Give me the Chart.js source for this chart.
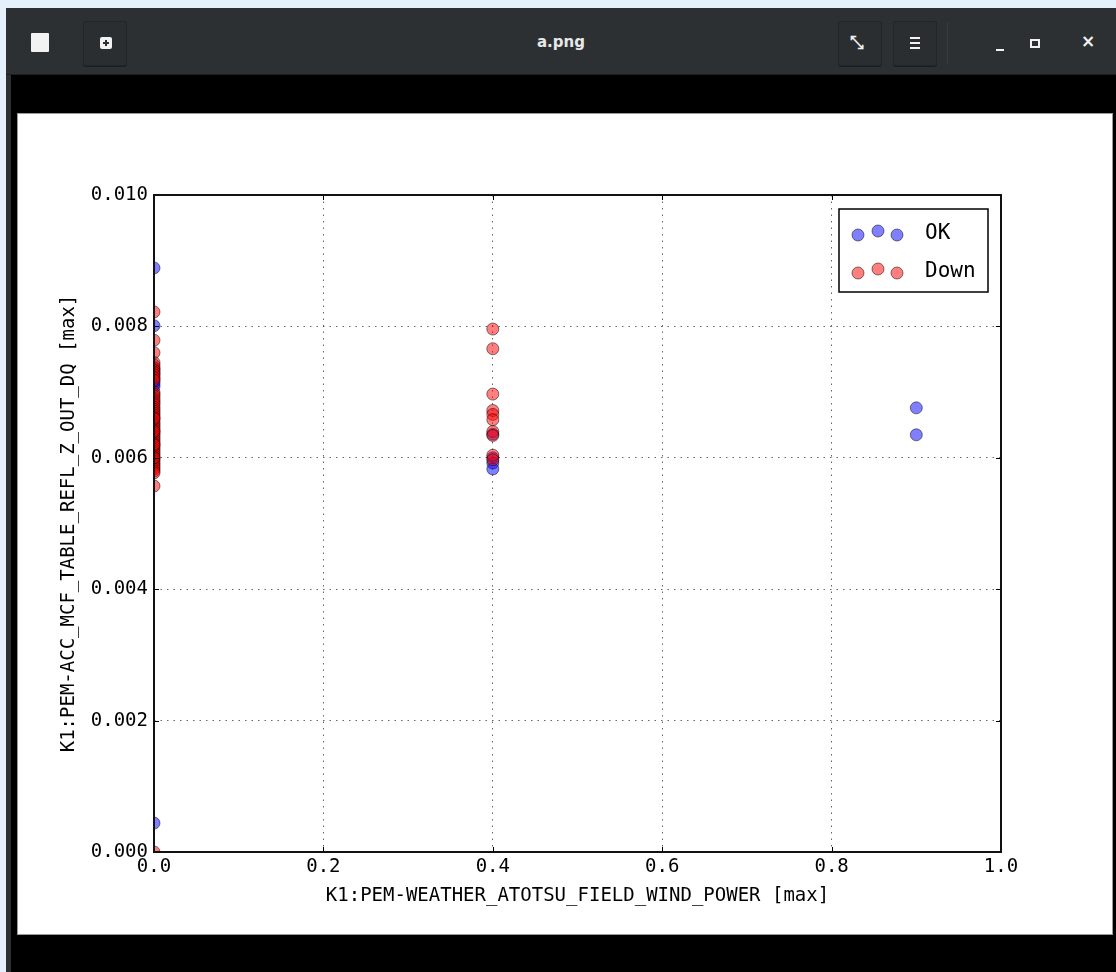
<!DOCTYPE html>
<html>
<head>
<meta charset="utf-8">
<script src="https://cdn.jsdelivr.net/npm/chart.js@4/dist/chart.umd.min.js"></script>
<style>
  html, body { margin: 0; padding: 0; }
  body { width: 1116px; height: 972px; background: #e4f0fb; position: relative; overflow: hidden; font-family: "DejaVu Sans", sans-serif; }
  #win { position: absolute; left: 6px; top: 8px; width: 1110px; height: 964px; background: #2d3134; }
  #titlebar { position: absolute; left: 0; top: 0; width: 1110px; height: 66px; background: #2c3033; border-bottom: 1px solid #1c1e20; }
  #content { position: absolute; left: 5px; top: 67px; width: 1105px; height: 897px; background: #000; }
  #img { position: absolute; left: 18px; top: 114px; width: 1094px; height: 820px; background: #fff; box-shadow: 0 0 0 1px #9a9a9a; }
  .btn { position: absolute; top: 13px; width: 44px; height: 45px; border-radius: 3px; background: #2a2e31; box-shadow: inset 0 0 0 1px #22262a, 0 1px 0 #1b1d1f; }
  #title { position: absolute; left: 0; width: 1110px; top: 25px; text-align: center; color: #e8e8e8; font-size: 15px; font-weight: bold; font-family: "DejaVu Sans", sans-serif; }
  .ic { position: absolute; background: #f2f2f2; }
</style>
</head>
<body>
<div id="win">
  <div id="titlebar">
    <div class="ic" style="left:25px;top:25px;width:18px;height:19px;border-radius:1px;"></div>
    <div class="btn" style="left:77px;"></div>
    <div class="ic" style="left:94px;top:29px;width:12px;height:12px;border-radius:2px;"></div>
    <div style="position:absolute;left:97px;top:34px;width:6px;height:2px;background:#2c3033;"></div>
    <div style="position:absolute;left:99px;top:32px;width:2px;height:6px;background:#2c3033;"></div>
    <div id="title">a.png</div>
    <div class="btn" style="left:832px;"></div>
    <div style="position:absolute;left:844px;top:24px;color:#f0f0f0;font-size:17px;font-weight:bold;line-height:20px;">&#x2921;</div>
    <div class="btn" style="left:887px;"></div>
    <div class="ic" style="left:904px;top:29px;width:10px;height:2px;"></div>
    <div class="ic" style="left:904px;top:34px;width:10px;height:2px;"></div>
    <div class="ic" style="left:904px;top:39px;width:10px;height:2px;"></div>
    <div style="position:absolute;left:941px;top:14px;width:1px;height:42px;background:#383c40;"></div>
    <div class="ic" style="left:990px;top:41px;width:8px;height:2px;"></div>
    <div style="position:absolute;left:1024px;top:31px;width:6px;height:5px;border:2px solid #f2f2f2;"></div>
    <div style="position:absolute;left:1075px;top:23px;color:#f2f2f2;font-size:17px;font-weight:bold;">&#x00D7;</div>
  </div>
  <div id="content"></div>
</div>
<div id="img"><canvas id="c" width="1094" height="820"></canvas></div>
<script>
// ---- data ----
const seriesNames = ['OK', 'Down'];
const okX = [0, 0, 0, 0, 0, 0, 0, 0, 0, 0.4, 0.4, 0.4, 0.4, 0.9, 0.9];
const okY = [0.00889, 0.00801, 0.00735, 0.00728, 0.00721, 0.00716, 0.00712, 0.00708, 0.00044,
             0.00636, 0.00600, 0.00592, 0.00583, 0.00676, 0.00635];
const downX = [0, 0, 0, 0, 0, 0, 0, 0, 0, 0,
               0, 0, 0, 0, 0, 0, 0, 0, 0, 0,
               0, 0, 0, 0, 0, 0, 0, 0, 0, 0,
               0, 0, 0, 0, 0, 0, 0, 0, 0, 0,
               0, 0, 0, 0, 0, 0, 0, 0, 0, 0,
               0, 0, 0, 0, 0, 0, 0, 0,
               0.4, 0.4, 0.4, 0.4, 0.4, 0.4, 0.4, 0.4, 0.4, 0.4];
const downY = [0.00822, 0.00779, 0.00760, 0.00745, 0.00741, 0.00737, 0.00733, 0.00730, 0.00726, 0.00722,
               0.00718, 0.00700, 0.00697, 0.00694, 0.00690, 0.00687, 0.00684, 0.00681, 0.00677, 0.00674,
               0.00671, 0.00668, 0.00665, 0.00662, 0.00659, 0.00655, 0.00652, 0.00649, 0.00646, 0.00643,
               0.00640, 0.00637, 0.00634, 0.00631, 0.00628, 0.00625, 0.00622, 0.00619, 0.00616, 0.00613,
               0.00610, 0.00607, 0.00604, 0.00601, 0.00598, 0.00595, 0.00592, 0.00589, 0.00586, 0.00583,
               0.00580, 0.00577, 0.00660, 0.00640, 0.00620, 0.00600, 0.00557, 0.0,
               0.00796, 0.00766, 0.00697, 0.00672, 0.00666, 0.00658, 0.00640, 0.00634, 0.00604, 0.00597];
const xTickLabels = ['0.0', '0.2', '0.4', '0.6', '0.8', '1.0'];
const yTickLabels = ['0.000', '0.002', '0.004', '0.006', '0.008', '0.010'];
const xTitle = 'K1:PEM-WEATHER_ATOTSU_FIELD_WIND_POWER [max]';
const yTitle = 'K1:PEM-ACC_MCF_TABLE_REFL_Z_OUT_DQ [max]';

const FONT = '"DejaVu Sans Mono", monospace';
const okFill = 'rgba(0,0,255,0.5)';
const downFill = 'rgba(255,0,0,0.5)';
const edge = 'rgba(0,0,0,0.5)';

const toPts = (xs, ys) => xs.map((x, i) => ({ x: x, y: ys[i] }));

const framePlugin = {
  id: 'frame',
  afterDraw(chart) {
    const ctx = chart.ctx;
    const a = chart.chartArea;
    const xs = chart.scales.x, ys = chart.scales.y;
    ctx.save();
    ctx.strokeStyle = '#000';
    ctx.lineWidth = 1;
    const L = 5;
    xs.ticks.forEach(t => {
      const px = Math.round(xs.getPixelForValue(t.value)) + 0.5;
      ctx.beginPath();
      ctx.moveTo(px, a.bottom); ctx.lineTo(px, a.bottom - L);
      ctx.moveTo(px, a.top); ctx.lineTo(px, a.top + L);
      ctx.stroke();
    });
    ys.ticks.forEach(t => {
      const py = Math.round(ys.getPixelForValue(t.value)) + 0.5;
      ctx.beginPath();
      ctx.moveTo(a.left, py); ctx.lineTo(a.left + L, py);
      ctx.moveTo(a.right, py); ctx.lineTo(a.right - L, py);
      ctx.stroke();
    });
    ctx.lineWidth = 2;
    ctx.strokeStyle = '#111';
    ctx.strokeRect(a.left, a.top, a.right - a.left, a.bottom - a.top);

    // legend box (matplotlib style with three markers)
    const bx = 821, by = 95, bw = 149, bh = 83;
    ctx.fillStyle = '#fff';
    ctx.fillRect(bx, by, bw, bh);
    ctx.lineWidth = 1.5;
    ctx.strokeStyle = '#000';
    ctx.strokeRect(bx, by, bw, bh);
    const rows = [
      { name: seriesNames[0], fill: okFill, y: 24 },
      { name: seriesNames[1], fill: downFill, y: 62 }
    ];
    const offs = [[19, 2], [39, -2], [58, 2]];
    rows.forEach(r => {
      offs.forEach(o => {
        ctx.beginPath();
        ctx.arc(bx + o[0], by + r.y + o[1], 6, 0, Math.PI * 2);
        ctx.fillStyle = r.fill;
        ctx.fill();
        ctx.lineWidth = 1;
        ctx.strokeStyle = edge;
        ctx.stroke();
      });
      ctx.fillStyle = '#000';
      ctx.font = '21px ' + FONT;
      ctx.textBaseline = 'middle';
      ctx.textAlign = 'left';
      ctx.fillText(r.name, bx + 86, by + r.y + 1);
    });
    ctx.restore();
  }
};

new Chart(document.getElementById('c'), {
  type: 'scatter',
  data: {
    datasets: [
      { label: seriesNames[0], data: toPts(okX, okY), backgroundColor: okFill, borderColor: edge,
        borderWidth: 1, pointRadius: 6, pointHoverRadius: 6, order: 1 },
      { label: seriesNames[1], data: toPts(downX, downY), backgroundColor: downFill, borderColor: edge,
        borderWidth: 1, pointRadius: 6, pointHoverRadius: 6, order: 0 }
    ]
  },
  options: {
    responsive: false,
    animation: false,
    events: [],
    layout: { padding: { left: 0, right: 111, top: 81, bottom: 0 } },
    plugins: { legend: { display: false }, tooltip: { enabled: false } },
    scales: {
      x: {
        type: 'linear', min: 0, max: 1,
        afterFit(s) { s.height = 82; },
        ticks: { stepSize: 0.2, color: '#000', padding: 4, maxRotation: 0,
                 font: { family: FONT, size: 19 },
                 callback: (v, i) => xTickLabels[i] },
        grid: { color: 'rgba(0,0,0,0.6)', lineWidth: 1, drawTicks: false },
        border: { display: false, dash: [1.5, 5] },
        title: { display: true, text: xTitle, color: '#000', font: { family: FONT, size: 19 },
                 padding: { top: 0, bottom: 27 } }
      },
      y: {
        type: 'linear', min: 0, max: 0.01,
        afterFit(s) { s.width = 136; },
        ticks: { stepSize: 0.002, color: '#000', padding: 6,
                 font: { family: FONT, size: 19 },
                 callback: (v, i) => yTickLabels[i] },
        grid: { color: 'rgba(0,0,0,0.6)', lineWidth: 1, drawTicks: false },
        border: { display: false, dash: [1.5, 5] },
        title: { display: true, text: yTitle, color: '#000', font: { family: FONT, size: 19 },
                 padding: { top: 40, bottom: 0 } }
      }
    }
  },
  plugins: [framePlugin]
});
</script>
</body>
</html>
